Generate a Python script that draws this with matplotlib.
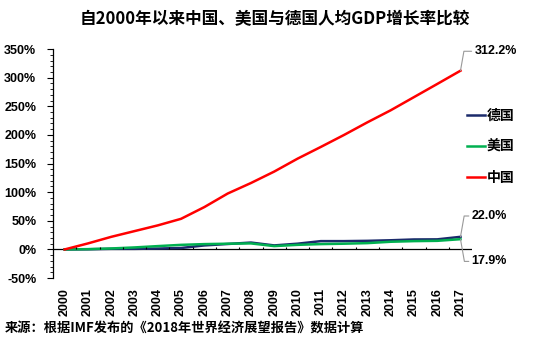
#GDP per capita growth since 2000: China, US, Germany
import numpy as np
import matplotlib
matplotlib.use('Agg')
import matplotlib.pyplot as plt
from matplotlib.ticker import MultipleLocator, FuncFormatter

plt.rcParams['font.family'] = ['Liberation Sans', 'Noto Sans CJK SC', 'DejaVu Sans']
cjk = ['Noto Sans CJK SC', 'Liberation Sans', 'DejaVu Sans']

years = [str(y) for y in range(2000, 2018)]
germany = [0, 0.3, 1, 1, 1.5, 2.5, 7, 9.5, 12, 7, 10, 14.5, 14.5, 15, 16, 17.4, 17.6, 22.0]
usa = [0, 0.5, 1.7, 3.5, 5.8, 8, 9.3, 10, 10.5, 5.8, 8, 9.3, 10, 11, 13.4, 14.5, 15, 17.9]
china = [0, 10.5, 22, 32, 42, 53.5, 74, 97.6, 116, 136, 158.5, 179, 200, 222, 243, 266, 289, 312.2]

title = '自2000年以来中国、美国与德国人均GDP增长率比较'
source = '来源：根据IMF发布的《2018年世界经济展望报告》数据计算'

fig = plt.figure(figsize=(5.5, 3.48), dpi=100)
ax = fig.add_axes([0.0964, 0.201, 0.762, 0.658])

x = np.arange(len(years))
ax.plot(x, germany, color='#1B2A6B', lw=1.8, label='德国')
ax.plot(x, usa, color='#00B050', lw=1.8, label='美国')
ax.plot(x, china, color='#FF0000', lw=1.8, label='中国')

ax.set_xlim(-0.5, len(years) - 0.5)
ax.set_ylim(-50, 350)

# horizontal axis at zero with tick marks between categories
ax.axhline(0, color='black', lw=0.9, zorder=1)
ax.vlines(np.arange(0.5, len(years) - 0.5, 1), 0, 5, color='black', lw=0.8)

ax.set_xticks(x)
ax.set_xticklabels(years, rotation=90, fontsize=9, fontweight='bold')
ax.tick_params(axis='x', length=0, pad=7)

ax.yaxis.set_major_locator(MultipleLocator(50))
ax.yaxis.set_minor_locator(MultipleLocator(10))
ax.yaxis.set_major_formatter(FuncFormatter(lambda v, p: '%d%%' % v))
ax.tick_params(axis='y', which='major', length=4, labelsize=9, pad=8)
ax.tick_params(axis='y', which='minor', length=2)
for t in ax.get_yticklabels():
    t.set_fontweight('bold')

for s in ['top', 'right', 'bottom']:
    ax.spines[s].set_visible(False)
ax.spines['left'].set_linewidth(0.9)

# end labels
ann = dict(arrowstyle='-', color='#999999', lw=0.8, shrinkA=0, shrinkB=0)
ax.annotate('%.1f%%' % china[-1], xy=(x[-1], china[-1]), xytext=(10, 14),
            textcoords='offset points', fontsize=9, fontweight='bold', va='center',
            arrowprops=dict(ann, connectionstyle='angle,angleA=0,angleB=80,rad=0'))
ax.annotate('%.1f%%' % germany[-1], xy=(x[-1], germany[-1]), xytext=(8, 15),
            textcoords='offset points', fontsize=9, fontweight='bold', va='center',
            arrowprops=dict(ann, connectionstyle='angle,angleA=0,angleB=80,rad=0'))
ax.annotate('%.1f%%' % usa[-1], xy=(x[-1], usa[-1]), xytext=(8, -16),
            textcoords='offset points', fontsize=9, fontweight='bold', va='center',
            arrowprops=dict(ann, connectionstyle='angle,angleA=0,angleB=-80,rad=0'))

leg = ax.legend(loc='upper left', bbox_to_anchor=(0.959, 0.795), frameon=False,
                handlelength=1.3, handletextpad=0.1, labelspacing=1.25,
                prop={'family': cjk, 'size': 10, 'weight': 'bold'})

fig.text(0.5, 0.945, title, ha='center', va='center', fontsize=12,
         fontweight='bold', family=cjk)
fig.text(0.008, 0.055, source, ha='left', va='center', fontsize=9.5,
         fontweight='bold', family=cjk)

fig.savefig('out.png', dpi=100)
